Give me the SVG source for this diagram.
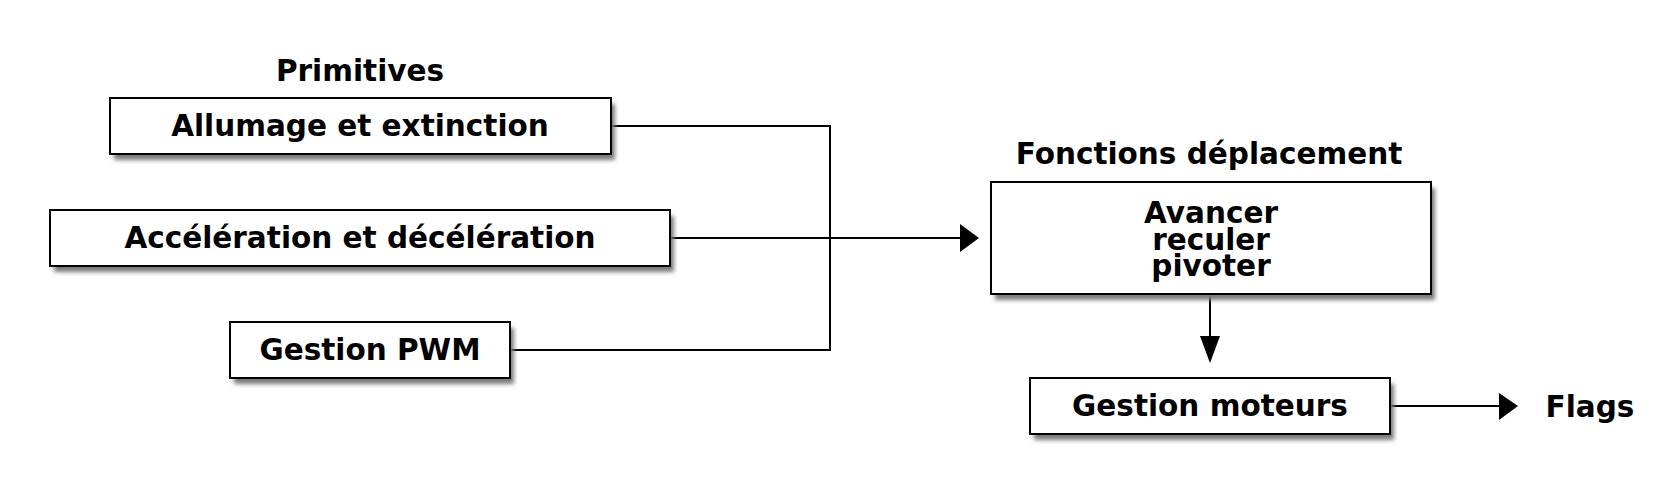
<svg xmlns="http://www.w3.org/2000/svg" width="1680" height="504" viewBox="0 0 1680 504">
<defs>
<filter id="blur" x="-10%" y="-30%" width="120%" height="160%"><feGaussianBlur stdDeviation="2"/></filter>
</defs>
<style>
.box{fill:#ffffff;stroke:#000000;stroke-width:2}
.sh{fill:#7a7a7a;filter:url(#blur)}
.t{font-family:"DejaVu Sans",Verdana,sans-serif;font-weight:bold;font-size:29.5px;fill:#000000;text-anchor:middle}
.ln{fill:none;stroke:#000000;stroke-width:2}
.ah{fill:#000000;stroke:none}
</style>
<rect width="1680" height="504" fill="#ffffff"/>
<text class="t" x="360" y="81">Primitives</text>
<text class="t" x="1209" y="164">Fonctions déplacement</text>
<g id="connectors">
<path class="ln" d="M611 126 H830 V350 H510"/>
<path class="ln" d="M670 238 H962"/>
<polygon class="ah" points="960,224 979,238 960,252"/>
<path class="ln" d="M1210 294 V338"/>
<polygon class="ah" points="1200,336 1220,336 1210,363"/>
<path class="ln" d="M1390 406 H1501"/>
<polygon class="ah" points="1499,393 1518,406 1499,420"/>
</g>
<g id="n-allumage">
<rect class="sh" x="114" y="104" width="501" height="56"/>
<rect class="box" x="110" y="98" width="501" height="56"/>
<text class="t" x="360" y="136">Allumage et extinction</text>
</g>
<g id="n-acceleration">
<rect class="sh" x="54" y="216" width="620" height="56"/>
<rect class="box" x="50" y="210" width="620" height="56"/>
<text class="t" x="360" y="248">Accélération et décélération</text>
</g>
<g id="n-pwm">
<rect class="sh" x="234" y="328" width="280" height="56"/>
<rect class="box" x="230" y="322" width="280" height="56"/>
<text class="t" x="370" y="360">Gestion PWM</text>
</g>
<g id="n-fonctions">
<rect class="sh" x="995" y="188" width="440" height="112"/>
<rect class="box" x="991" y="182" width="440" height="112"/>
<text class="t" x="1211" y="223">Avancer</text>
<text class="t" x="1211" y="250">reculer</text>
<text class="t" x="1211" y="276">pivoter</text>
</g>
<g id="n-moteurs">
<rect class="sh" x="1034" y="384" width="360" height="56"/>
<rect class="box" x="1030" y="378" width="360" height="56"/>
<text class="t" x="1210" y="416">Gestion moteurs</text>
</g>
<g id="n-flags">
<text class="t" x="1590" y="417">Flags</text>
</g>
</svg>
